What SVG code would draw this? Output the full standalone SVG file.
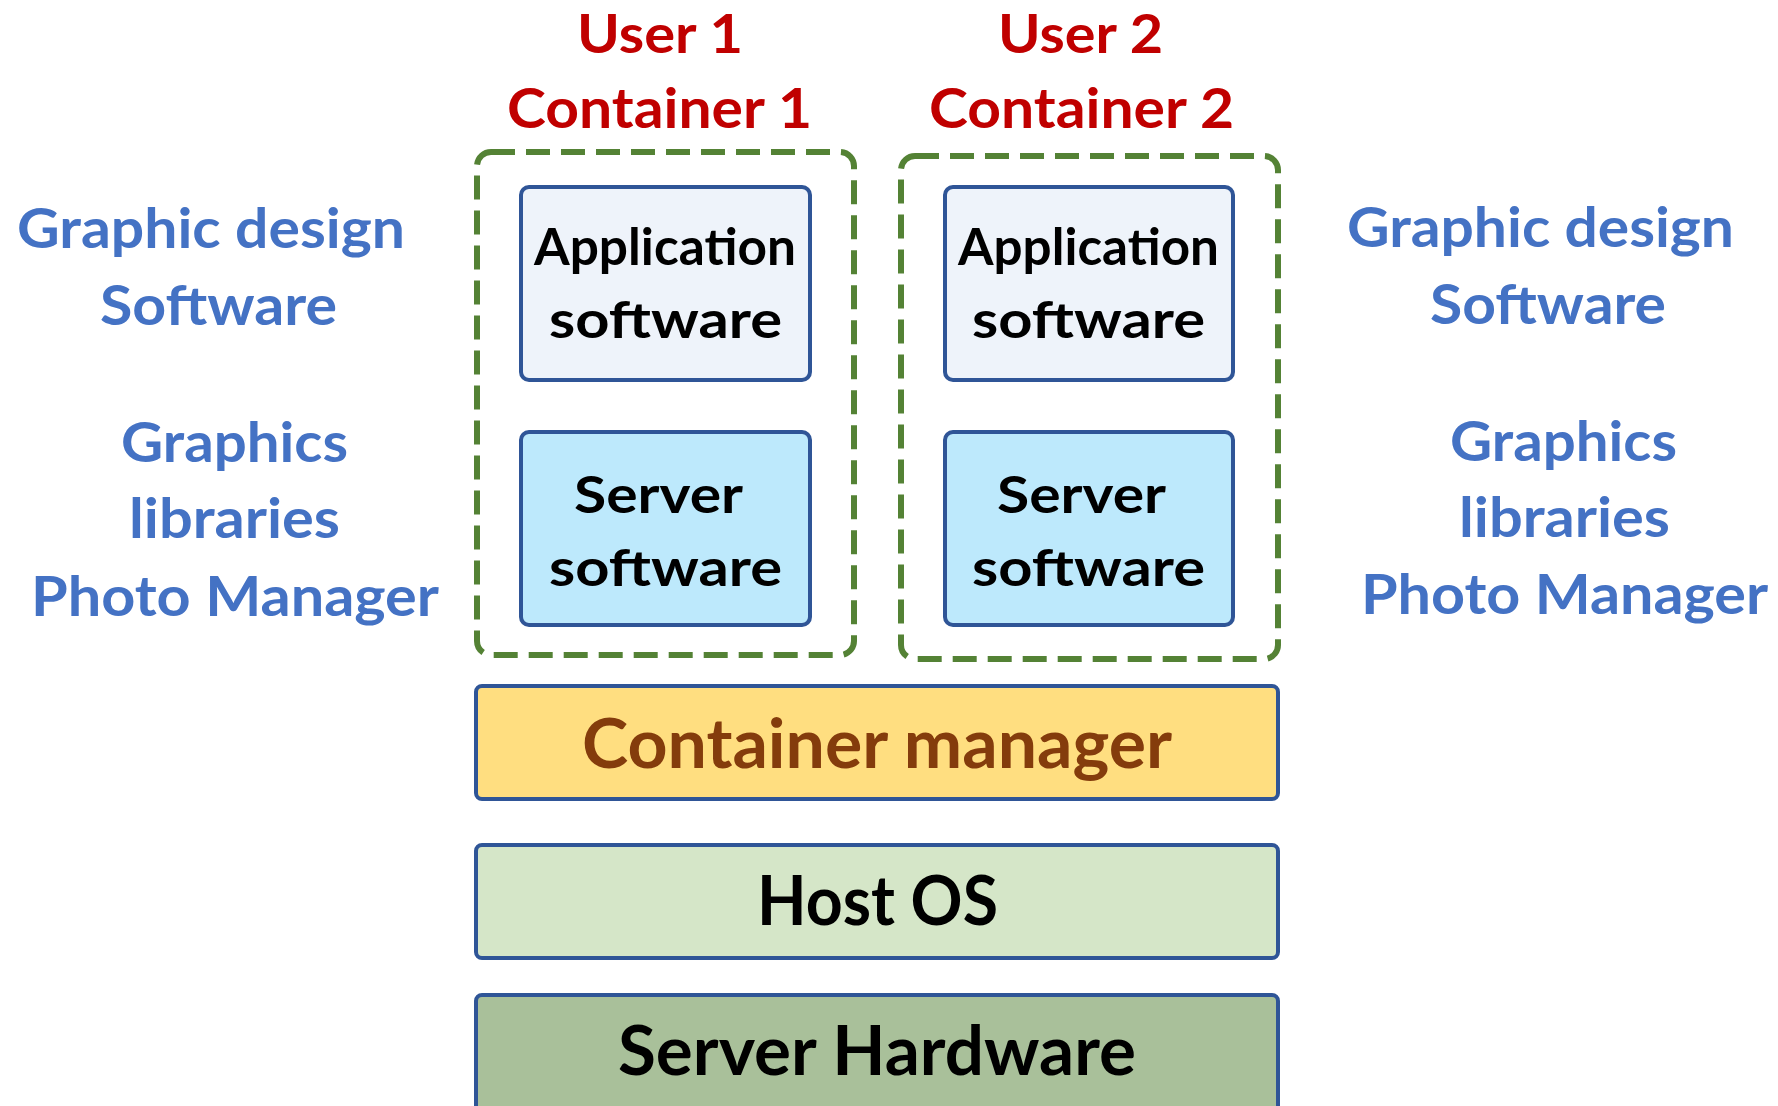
<svg xmlns="http://www.w3.org/2000/svg" width="1778" height="1106" viewBox="0 0 1778 1106">
<style>
text{font-family:Lato,"Open Sans","Liberation Sans",sans-serif;font-weight:bold}
.red{fill:#C00000;font-size:56px}
.usr{font-size:53px}
.blue{fill:#4472C4;font-size:56px}
.blk{fill:#000;font-size:52px}
.big{font-size:68px}
.cont{fill:none;stroke:#548235;stroke-width:6;stroke-dasharray:24 11}
.box{stroke:#2F5597;stroke-width:4}
.app{fill:#EEF3FA}
.srv{fill:#BDE9FC}
</style>
<rect width="1778" height="1106" fill="#fff"/>
<g id="labels-top">
<text class="red usr" x="577" y="53" textLength="166" lengthAdjust="spacingAndGlyphs">User 1</text>
<text class="red" x="507" y="128" textLength="305" lengthAdjust="spacingAndGlyphs">Container 1</text>
<text class="red usr" x="998" y="53" textLength="165" lengthAdjust="spacingAndGlyphs">User 2</text>
<text class="red" x="929" y="128" textLength="305" lengthAdjust="spacingAndGlyphs">Container 2</text>
</g>
<g id="labels-left">
<text class="blue" x="17" y="248" textLength="388" lengthAdjust="spacingAndGlyphs">Graphic design</text>
<text class="blue" x="100" y="325" textLength="237" lengthAdjust="spacingAndGlyphs">Software</text>
<text class="blue" x="121" y="462" textLength="227" lengthAdjust="spacingAndGlyphs">Graphics</text>
<text class="blue" x="129" y="538" textLength="211" lengthAdjust="spacingAndGlyphs">libraries</text>
<text class="blue" x="31" y="616" textLength="408" lengthAdjust="spacingAndGlyphs">Photo Manager</text>
</g>
<g id="labels-right">
<text class="blue" x="1347" y="247" textLength="387" lengthAdjust="spacingAndGlyphs">Graphic design</text>
<text class="blue" x="1430" y="324" textLength="236" lengthAdjust="spacingAndGlyphs">Software</text>
<text class="blue" x="1450" y="461" textLength="227" lengthAdjust="spacingAndGlyphs">Graphics</text>
<text class="blue" x="1459" y="537" textLength="211" lengthAdjust="spacingAndGlyphs">libraries</text>
<text class="blue" x="1361" y="614" textLength="407" lengthAdjust="spacingAndGlyphs">Photo Manager</text>
</g>
<g id="container1">
<rect class="cont" x="477" y="152" width="377" height="503" rx="14"/>
</g>
<g id="container2">
<rect class="cont" x="901" y="156" width="377" height="503" rx="14"/>
</g>
<g id="app1">
<rect class="box app" x="521" y="187" width="289" height="193" rx="8"/>
<text class="blk" x="534" y="265" textLength="262" lengthAdjust="spacingAndGlyphs">Application</text>
<text class="blk" x="549" y="338" textLength="233" lengthAdjust="spacingAndGlyphs">software</text>
</g>
<g id="server1">
<rect class="box srv" x="521" y="432" width="289" height="193" rx="8"/>
<text class="blk" x="574" y="513" textLength="169" lengthAdjust="spacingAndGlyphs">Server</text>
<text class="blk" x="549" y="586" textLength="233" lengthAdjust="spacingAndGlyphs">software</text>
</g>
<g id="app2">
<rect class="box app" x="945" y="187" width="288" height="193" rx="8"/>
<text class="blk" x="958" y="265" textLength="261" lengthAdjust="spacingAndGlyphs">Application</text>
<text class="blk" x="972" y="338" textLength="233" lengthAdjust="spacingAndGlyphs">software</text>
</g>
<g id="server2">
<rect class="box srv" x="945" y="432" width="288" height="193" rx="8"/>
<text class="blk" x="997" y="513" textLength="169" lengthAdjust="spacingAndGlyphs">Server</text>
<text class="blk" x="972" y="586" textLength="233" lengthAdjust="spacingAndGlyphs">software</text>
</g>
<g id="container-manager">
<rect class="box" fill="#FFDE80" x="476" y="686" width="802" height="113" rx="6"/>
<text class="big" fill="#843C0C" x="582" y="768" textLength="590" lengthAdjust="spacingAndGlyphs">Container manager</text>
</g>
<g id="host-os">
<rect class="box" fill="#D5E6C8" x="476" y="845" width="802" height="113" rx="6"/>
<text class="big" fill="#000" x="757" y="925" textLength="241" lengthAdjust="spacingAndGlyphs">Host OS</text>
</g>
<g id="server-hardware">
<rect class="box" fill="#A9C09A" x="476" y="995" width="802" height="130" rx="6"/>
<text class="big" fill="#000" x="618" y="1075" textLength="518" lengthAdjust="spacingAndGlyphs">Server Hardware</text>
</g>
<g id="connectors"/>
</svg>
